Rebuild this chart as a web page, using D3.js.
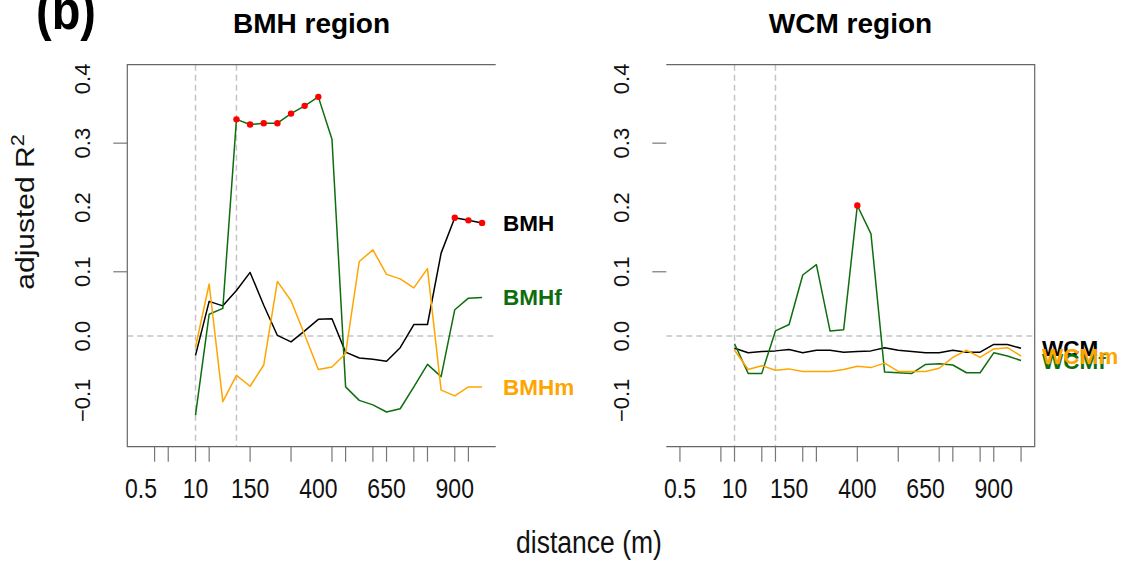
<!DOCTYPE html>
<html lang="en">
<head>
<meta charset="UTF-8">
<title>adjusted R2 by distance</title>
<script src="https://cdn.jsdelivr.net/npm/d3@7"></script>
<style>
  body { margin: 0; background: #fff; }
  svg { display: block; font-family: "Liberation Sans", Arial, sans-serif; }
</style>
</head>
<body>
<svg width="1125" height="561"></svg>
<script>
  // distance classes (m) along the x axis
  var distances = ["0.5", "1", "2", "5", "10", "25", "50", "100", "150", "200", "250", "300", "350",
    "400", "450", "500", "550", "600", "650", "700", "750", "800", "850", "900", "950", "1000"];
  var sampled = distances.slice(4); // series start at 10 m
  var tickLabels = ["0.5", "10", "150", "400", "650", "900"];
  var leftTicks = ["1", "2", "10", "25", "150", "300", "450", "500", "600", "650", "750", "800", "900", "950"];
  var rightTicks = ["0.5", "5", "10", "50", "100", "200", "250", "400", "550", "700", "750", "850", "900", "1000"];
  var guides = ["10", "100"];
  var yLabels = [0.4, 0.3, 0.2, 0.1, 0.0, -0.1];
  var yMarks = [0.3, 0.1];

  // BMH region
  var bmh = [-0.030, 0.054, 0.047, 0.071, 0.099, 0.048, 0.001, -0.009, 0.008, 0.026, 0.027,
    -0.025, -0.034, -0.036, -0.039, -0.018, 0.018, 0.018, 0.129, 0.184, 0.180, 0.176];
  var bmhf = [-0.123, 0.034, 0.043, 0.337, 0.329, 0.331, 0.331, 0.346, 0.358, 0.372, 0.306,
    -0.079, -0.100, -0.107, -0.118, -0.113, -0.079, -0.044, -0.063, 0.041, 0.059, 0.060];
  var bmhm = [-0.017, 0.081, -0.102, -0.061, -0.078, -0.045, 0.085, 0.055, 0.002, -0.052, -0.048,
    -0.027, 0.116, 0.134, 0.096, 0.089, 0.075, 0.105, -0.084, -0.093, -0.079, -0.079];
  // WCM region
  var wcm = [-0.019, -0.026, -0.024, -0.023, -0.021, -0.026, -0.022, -0.022, -0.025, -0.024, -0.023,
    -0.018, -0.022, -0.024, -0.026, -0.026, -0.022, -0.025, -0.025, -0.013, -0.013, -0.019];
  var wcmf = [-0.012, -0.058, -0.058, 0.008, 0.018, 0.095, 0.111, 0.008, 0.010, 0.203, 0.159,
    -0.056, -0.057, -0.058, -0.044, -0.043, -0.045, -0.057, -0.057, -0.026, -0.031, -0.038];
  var wcmm = [-0.022, -0.052, -0.046, -0.053, -0.051, -0.055, -0.055, -0.055, -0.052, -0.047, -0.049,
    -0.042, -0.055, -0.055, -0.055, -0.050, -0.033, -0.022, -0.033, -0.020, -0.018, -0.031];
  // distances with significant fits (red points)
  var bmhSig = ["900", "950", "1000"];
  var bmhfSig = ["100", "150", "200", "250", "300", "350", "400"];
  var wcmfSig = ["400"];

  var black = "#000000", green = "#0e6e0e", orange = "#ffa500";

  var panels = [
    { title: "BMH region", left: 127.3, ticks: leftTicks, open: "right",
      series: [
        { name: "BMH", values: bmh, color: black, sig: bmhSig },
        { name: "BMHf", values: bmhf, color: green, sig: bmhfSig },
        { name: "BMHm", values: bmhm, color: orange, sig: [] }
      ] },
    { title: "WCM region", left: 666.3, ticks: rightTicks, open: "left",
      series: [
        { name: "WCM", values: wcm, color: black, sig: [] },
        { name: "WCMf", values: wcmf, color: green, sig: wcmfSig },
        { name: "WCMm", values: wcmm, color: orange, sig: [] }
      ] }
  ];

  var svg = d3.select("svg");
  var plotTop = 64.7, plotW = 368.4, plotH = 382;
  var frameColor = "#666", gridColor = "#c4c4c4";

  var x = d3.scalePoint().domain(distances).range([0, plotW]).padding(1);
  var y = d3.scaleLinear().domain([-0.172, 0.422]).range([plotH, 0]);

  var line = d3.line()
    .x(function(d) { return x(d.dist); })
    .y(function(d) { return y(d.value); });

  panels.forEach(function(p) {
    var g = svg.append("g").attr("transform", "translate(" + p.left + "," + plotTop + ")");

    // reference lines
    g.append("line")
      .attr("x1", 0).attr("x2", plotW).attr("y1", y(0)).attr("y2", y(0))
      .attr("stroke", gridColor).attr("stroke-width", 1.5).attr("stroke-dasharray", "6,4");
    g.selectAll(".guide").data(guides).enter().append("line")
      .attr("x1", function(d) { return x(d); }).attr("x2", function(d) { return x(d); })
      .attr("y1", 0).attr("y2", plotH)
      .attr("stroke", gridColor).attr("stroke-width", 1.5).attr("stroke-dasharray", "6,4");

    // frame (one side open)
    var framePath = p.open === "right"
      ? "M" + plotW + ",0H0V" + plotH + "H" + plotW
      : "M0,0H" + plotW + "V" + plotH + "H0";
    g.append("path").attr("d", framePath).attr("fill", "none")
      .attr("stroke", frameColor).attr("stroke-width", 1.2);

    // x ticks and labels
    g.selectAll(".xt").data(p.ticks).enter().append("line")
      .attr("x1", function(d) { return x(d); }).attr("x2", function(d) { return x(d); })
      .attr("y1", plotH).attr("y2", plotH + 15)
      .attr("stroke", "#777").attr("stroke-width", 1.2);
    g.selectAll(".xl").data(tickLabels).enter().append("text")
      .attr("transform", function(d) { return "translate(" + x(d) + "," + (plotH + 51) + ") scale(1,1.2)"; })
      .attr("text-anchor", "middle").attr("font-size", 23).attr("fill", "#111")
      .text(function(d) { return d; });

    // y ticks and labels
    g.selectAll(".yt").data(yMarks).enter().append("line")
      .attr("x1", -14).attr("x2", 0)
      .attr("y1", function(d) { return y(d); }).attr("y2", function(d) { return y(d); })
      .attr("stroke", "#777").attr("stroke-width", 1.2);
    g.selectAll(".yl").data(yLabels).enter().append("text")
      .attr("transform", function(d) { return "translate(-37," + y(d) + ") rotate(-90)"; })
      .attr("text-anchor", "middle").attr("font-size", 22).attr("fill", "#111")
      .text(function(d) { return d3.format(".1f")(d); });

    // title
    g.append("text")
      .attr("transform", "translate(" + (plotW / 2) + "," + (33 - plotTop) + ")")
      .attr("text-anchor", "middle").attr("font-size", 28).attr("font-weight", "bold")
      .text(p.title);

    // series lines
    p.series.forEach(function(s) {
      var pts = s.values.map(function(v, i) { return { dist: sampled[i], value: v }; });
      s.points = pts;
      g.append("path").datum(pts)
        .attr("fill", "none").attr("stroke", s.color).attr("stroke-width", 1.5)
        .attr("stroke-linejoin", "round").attr("d", line);
    });

    // significant points and end labels
    p.series.forEach(function(s) {
      g.selectAll(null).data(s.points.filter(function(d) { return s.sig.indexOf(d.dist) >= 0; }))
        .enter().append("circle")
        .attr("cx", function(d) { return x(d.dist); })
        .attr("cy", function(d) { return y(d.value); })
        .attr("r", 3.2).attr("fill", "#ff0000");
      var last = s.points[s.points.length - 1];
      g.append("text")
        .attr("x", x(last.dist) + 21).attr("y", y(last.value) + 8)
        .attr("font-size", 22.5).attr("font-weight", "bold").attr("fill", s.color)
        .text(s.name);
    });
  });

  // panel label and shared axis titles
  svg.append("text")
    .attr("transform", "translate(36,29) scale(1,1.2)")
    .attr("font-size", 47).attr("font-weight", "bold")
    .text("(b)");

  svg.append("text")
    .attr("transform", "translate(589,553) scale(1,1.2)")
    .attr("text-anchor", "middle").attr("font-size", 26.5).attr("fill", "#111")
    .text("distance (m)");

  var yTitle = svg.append("text")
    .attr("transform", "translate(34,212) scale(1,1.2) rotate(-90)")
    .attr("text-anchor", "middle").attr("font-size", 25).attr("fill", "#111");
  yTitle.append("tspan").text("adjusted R");
  yTitle.append("tspan").attr("dy", -10).attr("font-size", 18).text("2");
</script>
</body>
</html>
